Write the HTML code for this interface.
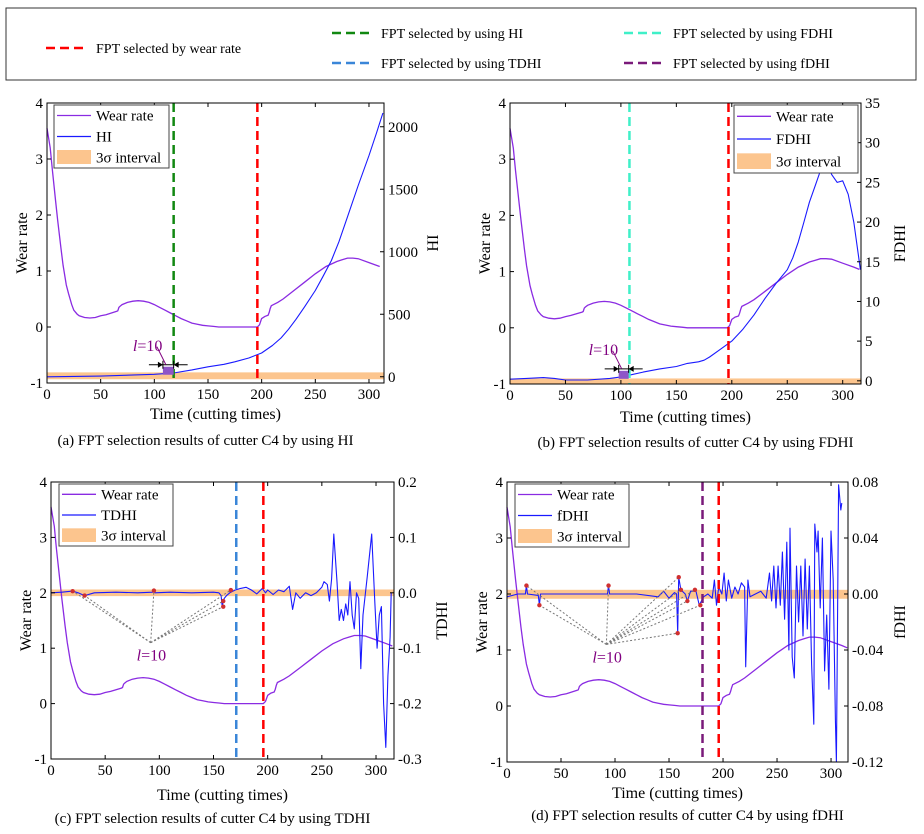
<!DOCTYPE html>
<html><head><meta charset="utf-8"><style>
body{margin:0;background:#fff;}
svg{display:block;font-family:"Liberation Serif",serif;}
</style></head><body>
<svg id="fig" width="924" height="834" viewBox="0 0 924 834" xmlns="http://www.w3.org/2000/svg">
<g>
<rect x="6" y="8" width="910" height="72" fill="#fff" stroke="#333" stroke-width="1"/>
<line x1="46" y1="48" x2="86" y2="48" stroke="#f00" stroke-width="2.5" stroke-dasharray="9,5"/>
<text x="96" y="53" font-size="14">FPT selected by wear rate</text>
<line x1="332" y1="33" x2="372" y2="33" stroke="#118811" stroke-width="2.5" stroke-dasharray="9,5"/>
<text x="381" y="38" font-size="14">FPT selected by using HI</text>
<line x1="332" y1="63" x2="372" y2="63" stroke="#3a86d8" stroke-width="2.5" stroke-dasharray="9,5"/>
<text x="381" y="68" font-size="14">FPT selected by using TDHI</text>
<line x1="624" y1="33" x2="664" y2="33" stroke="#3ff0c8" stroke-width="2.5" stroke-dasharray="9,5"/>
<text x="673" y="38" font-size="14">FPT selected by using FDHI</text>
<line x1="624" y1="63" x2="664" y2="63" stroke="#7a1a7a" stroke-width="2.5" stroke-dasharray="9,5"/>
<text x="673" y="68" font-size="14">FPT selected by using fDHI</text>
</g>
</svg>
<script>
const wearX=[0,3,5,8,10,13,15,18,20,23,25,28,30,35,40,45,50,55,60,65,66,67,68,70,75,80,85,90,95,100,105,110,115,120,125,130,135,140,145,150,155,160,170,180,190,196,198,200,203,206,207,208,209,215,220,230,240,250,260,270,275,280,285,290,300,310,315];
const wearY=[3.55,3.2,2.8,2.25,1.9,1.4,1.1,0.75,0.6,0.4,0.3,0.23,0.2,0.17,0.16,0.17,0.2,0.22,0.25,0.28,0.29,0.35,0.37,0.4,0.44,0.46,0.47,0.46,0.44,0.4,0.35,0.3,0.25,0.2,0.15,0.11,0.07,0.05,0.03,0.02,0.01,0,0,0,0,0,0.04,0.15,0.19,0.21,0.26,0.33,0.38,0.44,0.5,0.65,0.8,0.95,1.08,1.17,1.2,1.23,1.23,1.22,1.15,1.08,1.04];
const hiX=[0,50,100,118,135,150,165,175,188,200,210,218,225,232,240,250,257,265,272,280,290,300,307,313];
const hiY=[0,5,20,30,55,80,100,120,150,190,250,310,380,460,560,690,800,930,1080,1280,1530,1770,1950,2110];
const fdhiX=[0,15,30,40,50,70,90,100,107,120,135,150,160,170,175,180,190,200,210,220,230,240,250,255,260,265,270,275,280,285,290,295,300,305,310,316];
const fdhiY=[0.2,0.3,0.4,0.3,0.1,0.1,0.3,0.5,0.7,1.1,1.5,1.8,2.2,2.4,2.6,3,4,5,6.5,8.3,10.4,12.3,14,15.5,17.5,20,22.5,24.5,26.5,27.8,26,25,25.2,23.5,20,14];
const tdhiX=[0,10,20,25,31,40,60,80,94,95,96,110,130,150,155,157,158,159,160,162,165,170,175,180,185,190,195,198,200,205,210,215,220,223,226,230,235,240,245,250,252,255,257,259,261,264,266,268,270,272,274,276,278,280,282,284,286,288,292,296,299,301,303,305,307,309,311,313,314];
const tdhiY=[0,0.001,0.003,0,-0.005,0,0.001,0,0.001,0.004,0,0.001,0,0.001,0,-0.005,-0.025,-0.015,-0.01,-0.005,0,0.005,0.008,0.01,0.005,-0.002,0.008,0,0.005,-0.003,0.005,0.002,0.012,-0.03,0,-0.01,0,-0.005,0,0.01,0.02,0.015,-0.015,0.025,0.106,0.02,-0.05,-0.03,-0.05,-0.02,-0.04,0.02,-0.04,-0.065,0,-0.01,-0.137,-0.04,0.03,0.106,-0.02,-0.1,-0.04,-0.025,-0.2,-0.279,-0.15,-0.08,0];
const fdX=[0,10,17,18,19,29,30,31,60,93,94,95,120,140,145,150,155,157,158,159,161,165,167,170,175,178,182,186,190,192,194,196,199,201,203,205,208,211,214,217,220,221,223,225,230,235,240,243,245,247,249,251,253,255,257,259,261,262,264,266,268,270,272,274,276,278,280,282,284,285,287,288,290,292,294,296,298,300,302,304,305,307,309,310];
const fdY=[-0.002,0,0,0.006,0,-0.001,-0.008,0,0,0,0.006,0,0,-0.002,0.002,-0.003,0.001,0,-0.028,0.012,0.003,0,-0.005,0.002,0.002,-0.008,-0.002,0,-0.003,0.01,-0.008,0.005,0,0.015,-0.005,0.01,-0.003,0.005,0,0.008,0.005,-0.052,0.01,-0.002,0,0.002,-0.003,0.015,-0.005,0.02,-0.01,0.02,-0.008,0.03,-0.018,0.037,-0.04,0.047,-0.045,-0.06,0.02,-0.02,0.02,-0.03,0.025,-0.025,0.02,-0.05,-0.093,0.05,0.03,0.045,-0.01,0.04,-0.055,-0.015,-0.068,0.045,0.01,-0.09,-0.12,0.078,0.06,0.065];
const cPtsX=[20,31,95,159,159,166];
const cPtsY=[0.003,-0.005,0.004,-0.015,-0.025,0.005];
const dPtsX=[18,30,94,158,159,161,167,174,179];
const dPtsY=[0.006,-0.008,0.006,-0.028,0.012,0.003,-0.005,0.003,-0.008];
const leftTicks=[-1,0,1,2,3,4];
const xTicks=[0,50,100,150,200,250,300];

const NS="http://www.w3.org/2000/svg";
const svg=document.getElementById('fig');
function mk(tag,attrs,parent){const e=document.createElementNS(NS,tag);for(const k in attrs)e.setAttribute(k,attrs[k]);(parent||svg).appendChild(e);return e;}

const panels=[
 {id:'a',box:[47,103,384,383],xmax:314,r:[-50,2190],rt:[0,500,1000,1500,2000],rf:v=>v,rl:'HI',band:[-20,35],xs:hiX,ys:hiY,
  vl:[[118,'#118811'],[196,'#f00']],leg:[54,105,115,63],cap:'(a) FPT selection results of cutter C4 by using HI',capY:445,xlY:419,lt:'l10box',lpos:[108,118]},
 {id:'b',box:[510,103,861,384],xmax:316.5,r:[-0.4,35],rt:[0,5,10,15,20,25,30,35],rf:v=>v,rl:'FDHI',band:[-0.35,0.3],xs:fdhiX,ys:fdhiY,
  vl:[[107.7,'#3ff0c8'],[197,'#f00']],leg:[734,105,124,68],cap:'(b) FPT selection results of cutter C4 by using FDHI',capY:447,xlY:422,lt:'l10box',lpos:[98,107]},
 {id:'c',box:[51,482,394,759],xmax:316.6,r:[-0.3,0.2],rt:[-0.3,-0.2,-0.1,0,0.1,0.2],rf:v=>v.toFixed(1),rl:'TDHI',band:[-0.006,0.006],xs:tdhiX,ys:tdhiY,
  vl:[[171,'#3a86d8'],[196,'#f00']],leg:[59,484,114,62],cap:'(c) FPT selection results of cutter C4 by using TDHI',capY:823,xlY:800,lt:'dots',px:cPtsX,py:cPtsY,hub:[92,1.1]},
 {id:'d',box:[507,482,848,762],xmax:315.7,r:[-0.12,0.08],rt:[-0.12,-0.08,-0.04,0,0.04,0.08],rf:v=>v.toFixed(2),rl:'fDHI',band:[-0.0034,0.003],xs:fdX,ys:fdY,
  vl:[[181,'#7a1a7a'],[196,'#f00']],leg:[515,484,114,63],cap:'(d) FPT selection results of cutter C4 by using fDHI',capY:820,xlY:798,lt:'dots',px:dPtsX,py:dPtsY,hub:[92,1.1]}
];

panels.forEach(p=>{
 const [x0,y0,x1,y1]=p.box;
 const g=mk('g',{});
 
 
 const X=v=>x0+(x1-x0)*v/p.xmax;
 const YL=v=>y1-(y1-y0)*(v+1)/5;
 const YR=v=>y1-(y1-y0)*(v-p.r[0])/(p.r[1]-p.r[0]);
 const band=mk('rect',{x:x0,y:YR(p.band[1]),width:x1-x0,height:Math.max(3,YR(p.band[0])-YR(p.band[1])),fill:'#fcc58e'},g);
 
 
 let d='';wearX.forEach((x,i)=>{if(x<=p.xmax)d+=(i?'L':'M')+X(x).toFixed(1)+','+YL(wearY[i]).toFixed(1);});
 const wl=mk('path',{d:d,fill:'none',stroke:'#8a2be2','stroke-width':1.3},g);
 
 
 d='';p.xs.forEach((x,i)=>{d+=(i?'L':'M')+X(x).toFixed(1)+','+YR(p.ys[i]).toFixed(1);});
 const il=mk('path',{d:d,fill:'none',stroke:'#1a1aff','stroke-width':1.1,'stroke-linejoin':'round'},g);
 
 
 p.vl.forEach(v=>{const l=mk('line',{x1:X(v[0]),x2:X(v[0]),y1:y0,y2:y1,stroke:v[1],'stroke-width':2.5,'stroke-dasharray':'9,5'},g);
  
  });
 if(p.lt==='l10box'){
  const a=X(p.lpos[0]),b=X(p.lpos[1]),yb=YR(0)-2;
  mk('rect',{x:a,y:yb-8,width:b-a,height:8,fill:'#8e55c8'},g);
  mk('line',{x1:a-14,x2:b+14,y1:yb-10,y2:yb-10,stroke:'#000','stroke-width':1},g);
  mk('line',{x1:a,x2:a,y1:yb-14,y2:yb-6,stroke:'#000'},g);mk('line',{x1:b,x2:b,y1:yb-14,y2:yb-6,stroke:'#000'},g);
  mk('path',{d:`M${a},${yb-10}l-5,-3v6z M${b},${yb-10}l5,-3v6z`,fill:'#000'},g);
  mk('line',{x1:a-6,y1:yb-28,x2:a+3,y2:yb-10,stroke:'#800080','stroke-width':1},g);
  const t=mk('text',{x:a-30,y:yb-24,'font-size':16,fill:'#800080'},g);t.innerHTML='<tspan font-style="italic">l</tspan>=10';
  
  
 } else {
  const hx=X(p.hub[0]),hy=YL(p.hub[1]);
  p.px.forEach((x,i)=>{mk('line',{x1:hx,y1:hy,x2:X(x),y2:YR(p.py[i]),stroke:'#777','stroke-width':1,'stroke-dasharray':'2,2'},g);});
  p.px.forEach((x,i)=>{const c=mk('circle',{cx:X(x),cy:YR(p.py[i]),r:2.2,fill:'#d03030'},g);
   
   });
  const t=mk('text',{x:hx-14,y:hy+18,'font-size':16,fill:'#800080'},g);t.innerHTML='<tspan font-style="italic">l</tspan>=10';
  
  
 }
 mk('rect',{x:x0,y:y0,width:x1-x0,height:y1-y0,fill:'none',stroke:'#000','stroke-width':1},g);
 xTicks.forEach(v=>{mk('line',{x1:X(v),x2:X(v),y1:y1,y2:y1-4,stroke:'#000'},g);mk('line',{x1:X(v),x2:X(v),y1:y0,y2:y0+4,stroke:'#000'},g);
  const t=mk('text',{x:X(v),y:y1+16,'font-size':15,'text-anchor':'middle'},g);t.textContent=v;
  
  });
 leftTicks.forEach(v=>{mk('line',{x1:x0,x2:x0+4,y1:YL(v),y2:YL(v),stroke:'#000'},g);
  const t=mk('text',{x:x0-4,y:YL(v)+5,'font-size':15,'text-anchor':'end'},g);t.textContent=v;
  
  });
 p.rt.forEach(v=>{mk('line',{x1:x1,x2:x1-4,y1:YR(v),y2:YR(v),stroke:'#000'},g);
  const t=mk('text',{x:x1+4,y:YR(v)+5,'font-size':15},g);t.textContent=p.rf(v);
  
  });
 let t=mk('text',{x:0,y:0,'font-size':16,'text-anchor':'middle',transform:`translate(${x0-20},${(y0+y1)/2}) rotate(-90)`},g);t.textContent='Wear rate';
 
 
 const rx=x1+(p.id==='a'?54:p.id==='b'?44:p.id==='c'?53:57);
 t=mk('text',{x:0,y:0,'font-size':16,'text-anchor':'middle',transform:`translate(${rx},${(y0+y1)/2}) rotate(-90)`},g);t.textContent=p.rl;
 
 
 t=mk('text',{x:(x0+x1)/2,y:p.xlY,'font-size':16,'text-anchor':'middle'},g);t.textContent='Time (cutting times)';
 
 
 t=mk('text',{x:(x0+x1)/2+(p.id==='a'||p.id==='c'?-10:10),y:p.capY,'font-size':15,'text-anchor':'middle'},g);t.textContent=p.cap;
 
 
 const [lx,ly,lw,lh]=p.leg;
 const lg=mk('g',{},g);
 
 
 mk('rect',{x:lx,y:ly,width:lw,height:lh,fill:'#fff',stroke:'#444','stroke-width':1},lg);
 const rh=lh/3;
 mk('line',{x1:lx+3,x2:lx+37,y1:ly+rh*0.5,y2:ly+rh*0.5,stroke:'#8a2be2','stroke-width':1.3},lg);
 mk('line',{x1:lx+3,x2:lx+37,y1:ly+rh*1.5,y2:ly+rh*1.5,stroke:'#1a1aff','stroke-width':1.3},lg);
 mk('rect',{x:lx+3,y:ly+rh*2+3,width:34,height:rh-7,fill:'#fcc58e'},lg);
 ['Wear rate',p.rl,'3σ interval'].forEach((s,i)=>{const tt=mk('text',{x:lx+42,y:ly+rh*(i+0.5)+5,'font-size':15},lg);tt.textContent=s;});
});
</script>
</body></html>
